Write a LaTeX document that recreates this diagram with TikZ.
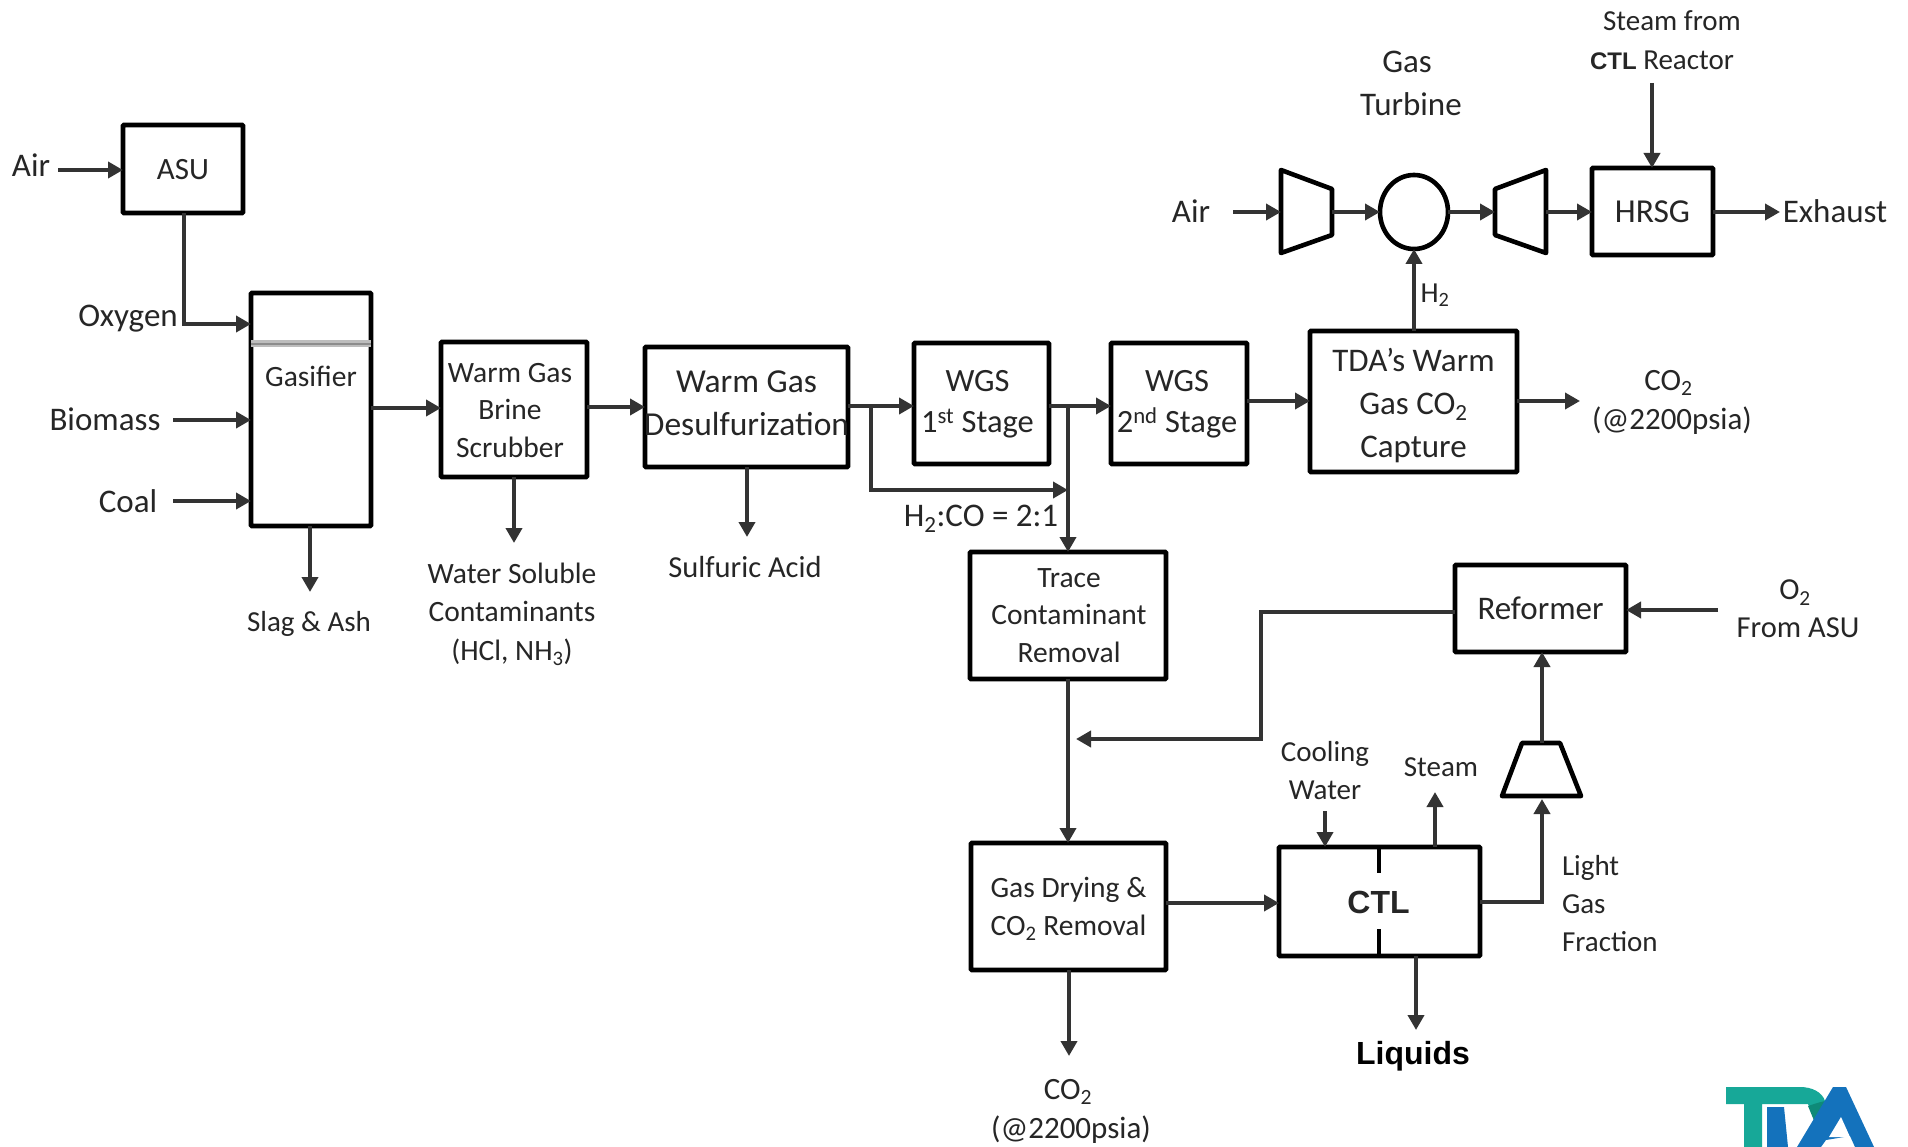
\documentclass[tikz,border=0pt]{standalone}
\usepackage{fontspec}
\setmainfont{Carlito}
\newfontfamily\arialfont{Liberation Sans}
\usetikzlibrary{arrows.meta,shapes.geometric}
\definecolor{linec}{HTML}{333333}
\definecolor{tdateal}{HTML}{17A898}
\definecolor{tdateald}{HTML}{0E8A78}
\definecolor{tdablue}{HTML}{1472BC}
\tikzset{
  boxn/.style={draw=black,line width=4.6pt,rectangle,rounded corners=0.8pt,outer sep=0pt,inner sep=0pt},
  lbl/.style={inner sep=0pt,outer sep=0pt,align=center,text=black!85,font=\fontsize{29}{38}\selectfont},
  lblb/.style={lbl,font=\fontsize{33}{42}\selectfont},
  arr/.style={draw=linec,line width=3.8pt,-{Triangle[length=15pt,width=16pt]}},
  mach/.style={draw=black,line width=4.6pt,inner sep=0pt,outer sep=0pt,line join=round}
}
% \bx[font]{name}{x1}{y1}{x2}{y2}{dx}{dy}{text}
\newcommand{\bx}[9][]{\node[boxn,minimum width={(#5-#3)*1pt},minimum height={(#6-#4)*1pt},label={[lbl,font=#1,xshift=#7pt,yshift=#8pt]center:{#9}}] (#2) at ({(#3+#5)/2},{(#4+#6)/2}) {};}
\begin{document}
\begin{tikzpicture}[x=1pt,y=-1pt]
\useasboundingbox (0,0) rectangle (1908,1147);
\fill[white] (0,0) rectangle (1908,1147);
% boxes
\bx[\fontsize{31}{36}\selectfont]{asu}{123}{125}{243}{213}{0}{-1}{ASU}
\bx[\fontsize{29.5}{36}\selectfont]{gas}{251}{293}{371}{526}{0}{33}{Gasifier}
\bx[\fontsize{29.5}{37.5}\selectfont]{scrub}{441}{342}{587}{477}{-4}{-1}{Warm Gas\\Brine\\Scrubber}
\bx[\fontsize{33.5}{42.6}\selectfont]{desul}{645}{347}{848}{467}{0}{4}{Warm Gas\\\makebox[0pt]{Desulfurization}}
\bx[\fontsize{32.5}{41.4}\selectfont]{wgsa}{914}{343}{1049}{464}{-4}{-1}{WGS\\1\textsuperscript{st} Stage}
\bx[\fontsize{32.5}{41.4}\selectfont]{wgsb}{1111}{343}{1247}{464}{-2}{-1}{WGS\\2\textsuperscript{nd} Stage}
\bx[\fontsize{33}{42.6}\selectfont]{cap}{1310}{331}{1517}{472}{0}{-4}{TDA’s Warm\\Gas CO\textsubscript{2}\\Capture}
\bx[\fontsize{33.5}{36}\selectfont]{hrsg}{1592}{168}{1713}{255}{0}{0}{HRSG}
\bx[\fontsize{29.5}{37.5}\selectfont]{trace}{970}{552}{1166}{679}{1}{0}{Trace\\Contaminant\\Removal}
\bx[\fontsize{29.5}{38}\selectfont]{dry}{971}{843}{1166}{970}{0}{-2}{Gas Drying \&\\CO\textsubscript{2} Removal}
\bx[\arialfont\bfseries\fontsize{32}{36}\selectfont]{ctl}{1279}{847}{1480}{956}{-1}{-1}{CTL}
\bx[\fontsize{33}{36}\selectfont]{ref}{1455}{565}{1626}{652}{0}{0}{Reformer}
% gasifier details
\draw[line width=7pt,black!26] (gas.west |- 0,344) -- (gas.east |- 0,344);
\draw[line width=1.5pt,black!45] (gas.west |- 0,344) -- (gas.east |- 0,344);
\draw[mach] (ctl.north -| 1379,0) -- (1379,873);
\draw[mach] (ctl.south -| 1379,0) -- (1379,929);
% machines
\draw[mach] (1281,170) -- (1332,189) -- (1332,235) -- (1281,253) -- cycle;
\coordinate (compW) at (1281,212);
\coordinate (compE) at (1332,212);
\node[mach,draw,ellipse,minimum width=68pt,minimum height=74pt] (burn) at (1414,212) {};
\draw[mach] (1546,170) -- (1495,189) -- (1495,235) -- (1546,253) -- cycle;
\coordinate (turbW) at (1495,212);
\coordinate (turbE) at (1546,212);
\draw[mach] (1522,743) -- (1560,743) -- (1581,796) -- (1502,796) -- cycle;
\coordinate (lcompN) at (1542,743);
\coordinate (lcompS) at (1542,799);
% labels
\node[lblb] (tairl) at (31,165) {Air};
\node[lblb] (toxy) at (128,319) {Oxygen};
\node[lblb] (tbio) at (105,419) {Biomass};
\node[lblb] (tcoal) at (128,501) {Coal};
\node[lbl] (tslag) at (309,624) {Slag \& Ash};
\node[lbl,font=\fontsize{29.5}{38.5}\selectfont] (twater) at (512,614) {Water Soluble\\Contaminants\\(HCl, NH\textsubscript{3})};
\node[lbl,font=\fontsize{30.5}{38}\selectfont] (tsulf) at (745,567) {Sulfuric Acid};
\node[lblb] (th2co) at (981,519) {H\textsubscript{2}:CO = 2:1};
\node[lbl] (th2) at (1435,295) {H\textsubscript{2}};
\node[lbl,font=\fontsize{31}{39}\selectfont] (tco2a) at (1672,402) {CO\textsubscript{2}\hspace*{7pt}\\(@2200psia)};
\node[lblb] (tair) at (1191,211) {Air};
\node[lblb,font=\fontsize{33}{43}\selectfont] (tgt) at (1411,83) {Gas\hspace*{8pt}\\Turbine};
\node[lbl] (tsteamfrom) at (1672,21) {Steam from};
\node[lbl] (tctlr) at (1662,60) {{\arialfont\bfseries\fontsize{24}{26}\selectfont CTL} Reactor};
\node[lblb] (texh) at (1835,211) {Exhaust};
\node[lbl,font=\fontsize{30.5}{38}\selectfont] (to2) at (1798,609) {O\textsubscript{2}\hspace*{6pt}\\From ASU};
\node[lbl] (tcool) at (1325,771) {Cooling\\Water};
\node[lbl] (tsteam) at (1441,767) {Steam};
\node[lbl,anchor=west,align=left] (tlight) at (1562,904) {Light\\Gas\\Fraction};
\node[lbl,font=\fontsize{31}{39}\selectfont] (tco2b) at (1071,1111) {CO\textsubscript{2}\hspace*{6pt}\\(@2200psia)};
\node[lbl,text=black,font=\arialfont\bfseries\fontsize{32}{36}\selectfont] (tliq) at (1413,1056) {Liquids};
% free ends
\coordinate (e1) at (58,170);
\coordinate (e2) at (173,420);
\coordinate (e3) at (173,501);
\coordinate (e4) at (310,592);
\coordinate (e5) at (514,543);
\coordinate (e6) at (747,537);
\coordinate (e7) at (1580,401);
\coordinate (e8) at (1233,212);
\coordinate (e9) at (1780,212);
\coordinate (e10) at (1652,83);
\coordinate (e11) at (1718,610);
\coordinate (e12) at (1069,1056);
\coordinate (e13) at (1416,1030);
\coordinate (e14) at (1325,811);
\coordinate (e15) at (1435,792);
\coordinate (j1) at (871,406);
\coordinate (j2) at (1068,406);
\coordinate (j3) at (1068,490);
\coordinate (j4) at (1076,739);
% connectors
\draw[arr] (e1) -- (asu.west |- e1);
\draw[arr] (asu.south -| 184,0) |- (gas.west |- 0,324);
\draw[arr] (e2) -- (gas.west |- e2);
\draw[arr] (e3) -- (gas.west |- e3);
\draw[arr] (gas.south -| e4) -- (e4);
\draw[arr] (gas.east |- 0,408) -- (scrub.west |- 0,408);
\draw[arr] (scrub.south -| e5) -- (e5);
\draw[arr] (scrub.east |- 0,407) -- (desul.west |- 0,407);
\draw[arr] (desul.south -| e6) -- (e6);
\draw[arr] (desul.east |- 0,406) -- (wgsa.west |- 0,406);
\draw[arr] (j1) |- (j3);
\draw[arr] (wgsa.east |- 0,406) -- (wgsb.west |- 0,406);
\draw[arr] (j2) -- (trace.north -| j2);
\draw[arr] (wgsb.east |- 0,401) -- (cap.west |- 0,401);
\draw[arr] (cap.east |- e7) -- (e7);
\draw[arr] (cap.north -| burn.south) -- (burn.south);
\draw[arr] (e8) -- (compW);
\draw[arr] (compE) -- (burn.west);
\draw[arr] (burn.east) -- (turbW);
\draw[arr] (turbE) -- (hrsg.west |- e8);
\draw[arr] (hrsg.east |- e9) -- (e9);
\draw[arr] (e10) -- (hrsg.north -| e10);
\draw[arr] (e11) -- (ref.east |- e11);
\draw[arr] (ref.west |- 0,612) -| (1261,739) -- (j4);
\draw[arr] (trace.south -| 1068,0) -- (dry.north -| 1068,0);
\draw[arr] (dry.south -| e12) -- (e12);
\draw[arr] (dry.east |- 0,903) -- (ctl.west |- 0,903);
\draw[arr] (ctl.south -| e13) -- (e13);
\draw[arr] (e14) -- (ctl.north -| e14);
\draw[arr] (ctl.north -| e15) -- (e15);
\draw[arr] (ctl.east |- 0,902) -| (lcompS);
\draw[arr] (lcompN) -- (ref.south -| lcompN);
% logo
\begin{scope}
\clip (1700,1080) rectangle (1908,1147);
\fill[tdateal] (1726,1087) -- (1800,1087) .. controls (1812,1087) and (1822,1092) .. (1825,1101) -- (1815,1120) -- (1808,1104) -- (1762,1104) -- (1762,1147) -- (1744,1147) -- (1744,1104) -- (1726,1104) -- cycle;
\fill[tdateald] (1825,1101) -- (1815,1123) -- (1808,1106) .. controls (1814,1104) and (1820,1102) .. (1825,1101) -- cycle;
\fill[tdablue] (1767,1107) -- (1784,1107) -- (1788,1147) -- (1767,1147) -- cycle;
\fill[tdablue] (1833,1087) -- (1846,1087) -- (1874,1147) -- (1855,1147) -- (1850,1136) -- (1826,1140) -- (1821,1147) -- (1797,1147) -- cycle;
\fill[white] (1841,1117) -- (1850,1137) -- (1829,1137) -- cycle;
\end{scope}
\end{tikzpicture}
\end{document}
